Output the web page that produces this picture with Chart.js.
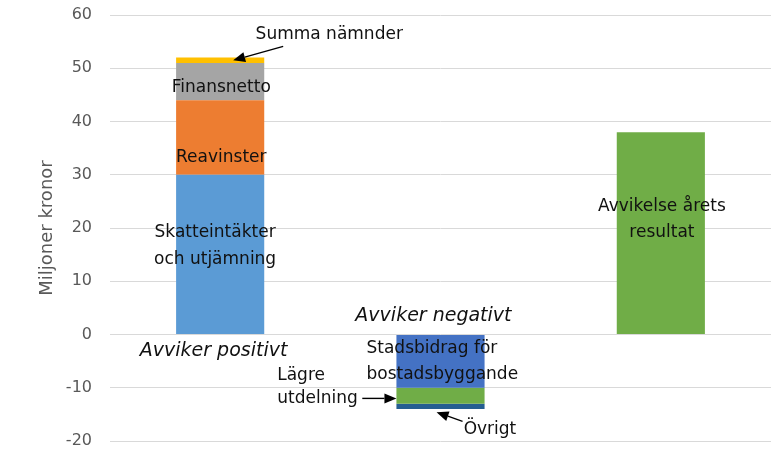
<!DOCTYPE html>
<html>
<head>
<meta charset="utf-8">
<script src="https://cdn.jsdelivr.net/npm/chart.js@4"></script>
<style>
  html, body { margin: 0; padding: 0; background: #ffffff; }
  #wrap { width: 776px; height: 464px; }
</style>
</head>
<body>
<div id="wrap"><canvas id="c" width="776" height="464"></canvas></div>
<script>
// ---- Data ----
const categories = ['Avviker positivt', 'Avviker negativt', 'Avvikelse årets resultat'];
const skatteintakter = [30, null, null];
const reavinster = [14, null, null];
const finansnetto = [7, null, null];
const summaNamnder = [1, null, null];
const stadsbidrag = [null, -10, null];
const lagreUtdelning = [null, -3, null];
const ovrigt = [null, -1, null];
const aretsResultat = [null, null, 38];
const yMin = -20, yMax = 60, yStep = 10;
const yTitle = 'Miljoner kronor';

// ---- Annotations (positions in data space: x = category index, y = value) ----
const FONT = '"DejaVu Sans", sans-serif';
const texts = [
  { t: 'Summa nämnder', x: 0.495, y: 56.3, align: 'center' },
  { t: 'Finansnetto', x: 0.005, y: 46.4, align: 'center' },
  { t: 'Reavinster', x: 0.005, y: 33.2, align: 'center' },
  { t: 'Skatteintäkter', x: -0.023, y: 19.2, align: 'center' },
  { t: 'och utjämning', x: -0.023, y: 14.1, align: 'center' },
  { t: 'Avviker positivt', x: -0.03, y: -3.2, align: 'center', italic: true },
  { t: 'Avviker negativt', x: 0.968, y: 3.4, align: 'center', italic: true },
  { t: 'Stadsbidrag för', x: 0.664, y: -2.6, align: 'left' },
  { t: 'bostadsbyggande', x: 0.664, y: -7.5, align: 'left' },
  { t: 'Lägre', x: 0.259, y: -7.7, align: 'left' },
  { t: 'utdelning', x: 0.259, y: -12.0, align: 'left' },
  { t: 'Övrigt', x: 1.105, y: -17.8, align: 'left' },
  { t: 'Avvikelse årets', x: 2.005, y: 24.0, align: 'center' },
  { t: 'resultat', x: 2.005, y: 19.2, align: 'center' }
];
const arrows = [
  { x1: 0.286, y1: 54.1, x2: 0.059, y2: 51.5 },
  { x1: 0.645, y1: -12.0, x2: 0.80, y2: -12.0 },
  { x1: 1.10, y1: -16.3, x2: 0.982, y2: -14.6 }
];

const annotationPlugin = {
  id: 'annot',
  afterDatasetsDraw(chart) {
    const ctx = chart.ctx;
    const xs = chart.scales.x, ys = chart.scales.y;
    ctx.save();
    ctx.textBaseline = 'middle';
    texts.forEach(a => {
      ctx.font = a.italic ? ('italic 19px ' + FONT) : ('17px ' + FONT);
      ctx.fillStyle = '#111111';
      ctx.textAlign = a.align;
      ctx.fillText(a.t, xs.getPixelForValue(a.x), ys.getPixelForValue(a.y));
    });
    arrows.forEach(a => {
      const x1 = xs.getPixelForValue(a.x1), y1 = ys.getPixelForValue(a.y1);
      const x2 = xs.getPixelForValue(a.x2), y2 = ys.getPixelForValue(a.y2);
      const ang = Math.atan2(y2 - y1, x2 - x1);
      const hl = 12, hw = 5;
      const bx = x2 - hl * Math.cos(ang), by = y2 - hl * Math.sin(ang);
      ctx.strokeStyle = '#000000';
      ctx.lineWidth = 1.4;
      ctx.beginPath();
      ctx.moveTo(x1, y1);
      ctx.lineTo(bx, by);
      ctx.stroke();
      ctx.fillStyle = '#000000';
      ctx.beginPath();
      ctx.moveTo(x2, y2);
      ctx.lineTo(bx + hw * Math.sin(ang), by - hw * Math.cos(ang));
      ctx.lineTo(bx - hw * Math.sin(ang), by + hw * Math.cos(ang));
      ctx.closePath();
      ctx.fill();
    });
    ctx.restore();
  }
};

const mk = (label, data, color) => ({
  label, data, backgroundColor: color, borderWidth: 0,
  barPercentage: 0.4, categoryPercentage: 1.0
});

new Chart(document.getElementById('c'), {
  type: 'bar',
  data: {
    labels: categories,
    datasets: [
      mk('Skatteintäkter och utjämning', skatteintakter, '#5B9BD5'),
      mk('Reavinster', reavinster, '#ED7D31'),
      mk('Finansnetto', finansnetto, '#A5A5A5'),
      mk('Summa nämnder', summaNamnder, '#FFC000'),
      mk('Stadsbidrag för bostadsbyggande', stadsbidrag, '#4472C4'),
      mk('Lägre utdelning', lagreUtdelning, '#70AD47'),
      mk('Övrigt', ovrigt, '#255E91'),
      mk('Avvikelse årets resultat', aretsResultat, '#70AD47')
    ]
  },
  options: {
    responsive: false,
    animation: false,
    layout: { padding: { top: 15, bottom: 23, left: 0, right: 5 } },
    plugins: { legend: { display: false }, tooltip: { enabled: false } },
    scales: {
      x: { stacked: true, display: false, offset: true },
      y: {
        stacked: true,
        min: yMin, max: yMax,
        ticks: { stepSize: yStep, color: '#595959', padding: 18, font: { family: FONT, size: 16 } },
        grid: { color: '#D9D9D9', lineWidth: 1, drawTicks: false },
        border: { display: false },
        title: { display: true, text: yTitle, color: '#595959', font: { family: FONT, size: 18 }, padding: { top: 37, bottom: 0 } },
        afterFit(scale) { scale.width = 110; scale.paddingTop = 0; scale.paddingBottom = 0; }
      }
    }
  },
  plugins: [annotationPlugin]
});
</script>
</body>
</html>
